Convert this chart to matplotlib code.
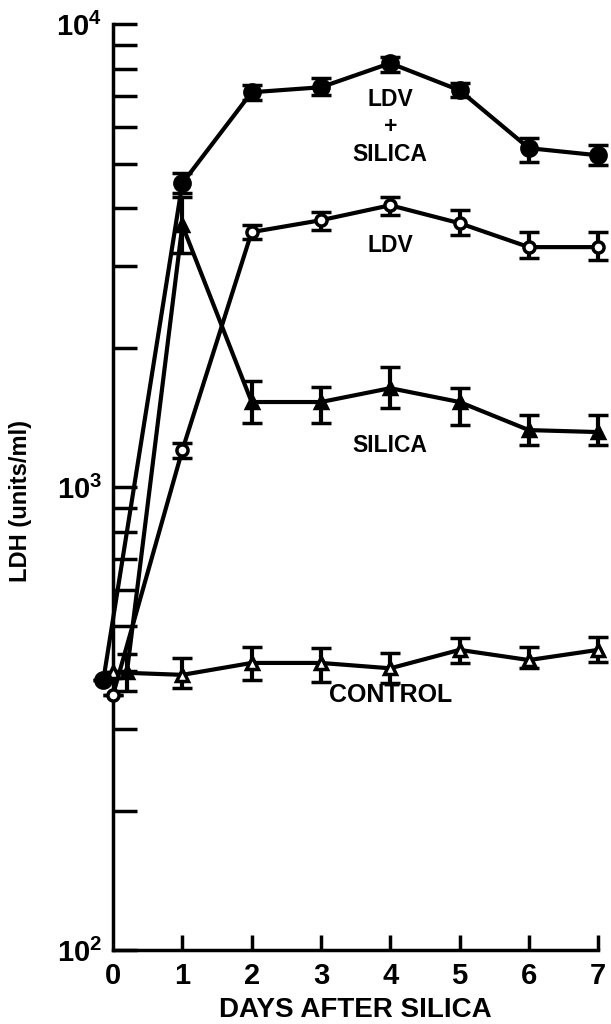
import numpy as np
import matplotlib
matplotlib.use("Agg")
from matplotlib import pyplot as plt
from matplotlib.ticker import FixedLocator, LogLocator, NullFormatter

plt.rcParams['font.family'] = ['Liberation Sans', 'DejaVu Sans']
plt.rcParams['font.weight'] = 'bold'
plt.rcParams['mathtext.fontset'] = 'custom'
plt.rcParams['mathtext.rm'] = 'Liberation Sans:bold'
plt.rcParams['mathtext.bf'] = 'Liberation Sans:bold'

# LDH values (units/ml), with lower / upper ends of the error bars
ldv_silica_days = [-0.14, 1, 2, 3, 4, 5, 6, 7]
ldv_silica = [383, 4535, 7130, 7310, 8240, 7200, 5400, 5210]
ldv_silica_lo = [383, 4315, 6855, 7030, 7880, 6950, 5035, 4955]
ldv_silica_hi = [383, 4767, 7385, 7640, 8490, 7460, 5676, 5485]

ldv_days = [0, 1, 2, 3, 4, 5, 6, 7]
ldv = [356, 1202, 3556, 3773, 4064, 3717, 3300, 3300]
ldv_lo = [356, 1155, 3440, 3590, 3866, 3500, 3126, 3093]
ldv_hi = [356, 1245, 3680, 3926, 4227, 3965, 3555, 3555]

silica_days = [0.2, 1, 2, 3, 4, 5, 6, 7]
silica = [398, 3680, 1527, 1527, 1636, 1527, 1328, 1315]
silica_lo = [362, 3200, 1374, 1374, 1483, 1362, 1233, 1233]
silica_hi = [437, 4230, 1694, 1644, 1815, 1638, 1432, 1432]

control_days = [0, 1, 2, 3, 4, 5, 6, 7]
control = [398, 393, 417, 417, 406, 445, 423, 445]
control_lo = [398, 368, 383, 379, 378, 417, 406, 419]
control_hi = [398, 428, 451, 449, 438, 472, 451, 474]

day_ticks = [0, 1, 2, 3, 4, 5, 6, 7]
y_majors = [1e2, 1e3, 1e4]
y_major_labels = [r'$10^2$', r'$10^3$', r'$10^4$']

fig = plt.figure(figsize=(6.11, 10.24), dpi=100)
ax = fig.add_axes([0.185, 0.0723, 0.794, 0.904])

def draw(days, vals, lo, hi, marker, face, ms):
    vals = np.array(vals, dtype=float)
    yerr = [vals - np.array(lo), np.array(hi) - vals]
    ax.errorbar(days, vals, yerr=yerr, color='black', lw=3, elinewidth=3,
                capsize=7, capthick=3, marker=marker, ms=ms,
                mfc=face, mec='black', mew=2.5, clip_on=False, zorder=3)

draw(control_days, control, control_lo, control_hi, '^', 'white', 9)
draw(silica_days, silica, silica_lo, silica_hi, '^', 'black', 9)
draw(ldv_days, ldv, ldv_lo, ldv_hi, 'o', 'white', 8)
draw(ldv_silica_days, ldv_silica, ldv_silica_lo, ldv_silica_hi, 'o', 'black', 11)

ax.set_yscale('log')
ax.set_xlim(0, 7)
ax.set_ylim(1e2, 1e4)

ax.yaxis.set_major_locator(FixedLocator(y_majors))
ax.set_yticklabels(y_major_labels)
ax.yaxis.set_minor_locator(LogLocator(base=10, subs=np.arange(2, 10)))
ax.yaxis.set_minor_formatter(NullFormatter())

ax.set_xticks(day_ticks)
ax.set_xticklabels([str(d) for d in day_ticks])
ax.xaxis.get_major_ticks()[0].tick1line.set_visible(False)

for side in ['top', 'right']:
    ax.spines[side].set_visible(False)
for side in ['left', 'bottom']:
    ax.spines[side].set_linewidth(2.5)

ax.tick_params(axis='y', which='both', direction='in', length=17, width=2.5, labelsize=21, pad=8)
ax.tick_params(axis='x', which='major', direction='in', length=11, width=2.5, labelsize=21, pad=9)

ax.set_xlabel('DAYS AFTER SILICA', fontsize=20, fontweight='bold', labelpad=5)
ax.set_ylabel('LDH (units/ml)', fontsize=17, fontweight='bold')
ax.yaxis.set_label_coords(-0.167, 0.485)

ax.text(4.0, 6000, 'LDV\n+\nSILICA', ha='center', va='center', fontsize=16.5,
        fontweight='bold', linespacing=1.25)
ax.text(4.0, 3335, 'LDV', ha='center', va='center', fontsize=16.5, fontweight='bold')
ax.text(4.0, 1233, 'SILICA', ha='center', va='center', fontsize=16.5, fontweight='bold')
ax.text(4.0, 355, 'CONTROL', ha='center', va='center', fontsize=18, fontweight='bold')

plt.savefig('out.png', dpi=100)
